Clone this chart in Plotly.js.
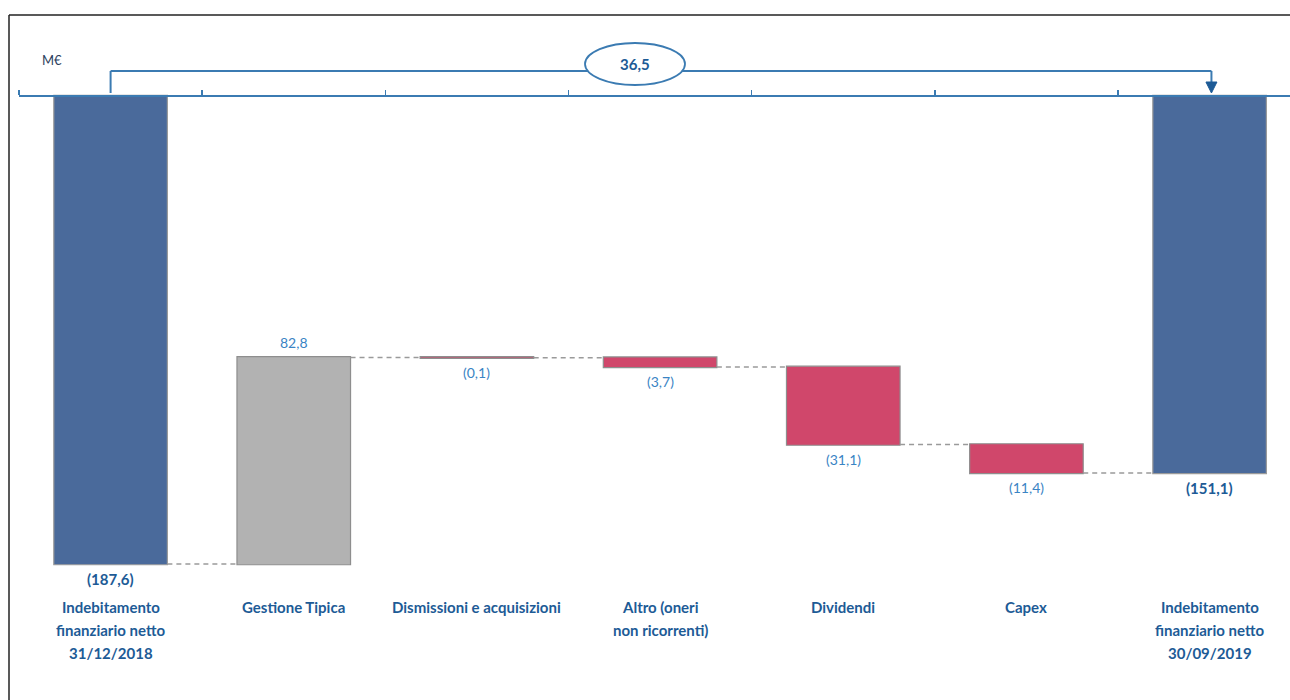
<!DOCTYPE html>
<html>
<head>
<meta charset="utf-8">
<script src="https://cdn.plot.ly/plotly-3.0.1.min.js"></script>
<style>
html,body{margin:0;padding:0;background:#fff;overflow:hidden;}
#chart{width:1290px;height:700px;}
</style>
</head>
<body>
<div id="chart"></div>
<script>
// ---- data ----
const categories = [
  "Indebitamento\nfinanziario netto\n31/12/2018",
  "Gestione Tipica",
  "Dismissioni e acquisizioni",
  "Altro (oneri\nnon ricorrenti)",
  "Dividendi",
  "Capex",
  "Indebitamento\nfinanziario netto\n30/09/2019"
];
const measures = ["absolute", "relative", "relative", "relative", "relative", "relative", "total"];
const values = [-187.6, 82.8, -0.1, -3.7, -31.1, -11.4, -151.1];
const unitLabel = "M€";

// ---- styles ----
const BLUE = "#4a6a9b";
const RED = "#d0476b";
const GREY = "#b2b2b2";
const LINE_BLUE = "#3b7bb2";
const DARK_TXT = "#1d5b96";
const VAL_TXT = "#3a84c4";
const FONT = "Lato, 'Open Sans', sans-serif";

const fmt = v => {
  const s = Math.abs(v).toFixed(1).replace('.', ',');
  return v < 0 ? "(" + s + ")" : s;
};

const xcats = categories.map(c => c.replace(/\n/g, " "));

const trace = {
  type: "waterfall",
  x: xcats,
  y: values,
  measure: measures,
  width: 0.62,
  textinfo: "none",
  hoverinfo: "skip",
  increasing: {marker: {color: GREY, line: {color: "#8e8e8e", width: 1.2}}},
  decreasing: {marker: {color: RED, line: {color: "#8e8e8e", width: 1.2}}},
  totals: {marker: {color: BLUE, line: {color: "#9a9a9a", width: 1.2}}},
  connector: {mode: "between", line: {color: "#9a9a9a", width: 1.5, dash: "5px,4px"}}
};

// value labels
const annotations = [];
let cum = 0;
values.forEach((v, i) => {
  let start, end;
  if (measures[i] === "absolute") { start = 0; end = v; cum = v; }
  else if (measures[i] === "total") { start = 0; end = cum; }
  else { start = cum; end = cum + v; cum = end; }
  const shown = measures[i] === "total" ? end : v;
  const isTot = measures[i] !== "relative";
  const pos = shown >= 0;
  annotations.push({
    x: xcats[i], xref: "x",
    y: pos ? Math.max(start, end) : Math.min(start, end), yref: "y",
    text: fmt(shown), showarrow: false,
    yanchor: pos ? "bottom" : "top",
    yshift: pos ? 4 : -4,
    font: {family: FONT, size: isTot ? 15 : 14, color: isTot ? DARK_TXT : VAL_TXT, weight: isTot ? 700 : 400}
  });
});

// category labels (one annotation per line)
categories.forEach((c, i) => {
  c.split("\n").forEach((line, j) => {
    annotations.push({
      x: xcats[i], xref: "x",
      y: 1, yref: "paper", yanchor: "middle",
      yshift: -(607 + j * 23),
      text: line, showarrow: false,
      font: {family: FONT, size: 15, color: DARK_TXT, weight: 700}
    });
  });
});

// unit label
annotations.push({
  x: 0, xref: "paper", xshift: 33, y: 1, yref: "paper", yshift: -60,
  text: unitLabel, showarrow: false, xanchor: "center", yanchor: "middle",
  font: {family: FONT, size: 13, color: "#2c3e5c"}
});

// change bracket
const delta = values[values.length - 1] - values[0];
const k = 468 / 187.6; // px per unit (visual scale)
const yTop = 25 / k, yBase = 3 / k, yHeadBase = 14 / k, yTip = 3 / k;
const nLast = categories.length - 1;
const cx = 2.863, hw = 50 / 183.17;
annotations.push({
  x: cx, xref: "x", y: (21.25 + 4.41) / 2, yref: "y",
  text: delta.toFixed(1).replace('.', ','), showarrow: false,
  font: {family: FONT, size: 15, color: DARK_TXT, weight: 700}
});

const aw = 5.5 / 183.17;
const shapes = [
  // frame
  {type: "line", xref: "paper", yref: "paper", x0: -10/1271, x1: 1.05, y0: 1 - 15/700, y1: 1 - 15/700, line: {color: "#222", width: 1.5}},
  {type: "line", xref: "paper", yref: "paper", x0: -10/1271, x1: -10/1271, y0: 1 - 15/700, y1: -0.05, line: {color: "#222", width: 1.5}},
  // bracket
  {type: "line", xref: "x", yref: "y", x0: 0, x1: 0, y0: yBase, y1: yTop, line: {color: LINE_BLUE, width: 2}},
  {type: "line", xref: "x", yref: "y", x0: 0, x1: nLast + 0.01, y0: yTop, y1: yTop, line: {color: LINE_BLUE, width: 2}},
  {type: "line", xref: "x", yref: "y", x0: nLast + 0.01, x1: nLast + 0.01, y0: yTop, y1: yHeadBase, line: {color: LINE_BLUE, width: 2}},
  {type: "path", xref: "x", yref: "y",
   path: `M ${nLast + 0.01 - aw} ${yHeadBase} L ${nLast + 0.01 + aw} ${yHeadBase} L ${nLast + 0.01} ${yTip} Z`,
   fillcolor: "#1d5b96", line: {color: "#1d5b96", width: 1}},
  // ellipse
  {type: "circle", xref: "x", yref: "y", x0: cx - hw, x1: cx + hw, y0: 4.41, y1: 21.25,
   fillcolor: "#fff", line: {color: LINE_BLUE, width: 1.8}}
];

const layout = {
  width: 1290, height: 700,
  margin: {l: 19, r: 0, t: 0, b: 0},
  paper_bgcolor: "#fff", plot_bgcolor: "rgba(0,0,0,0)",
  showlegend: false,
  xaxis: {
    type: "category",
    range: [-0.5, -0.5 + 1271 / 183.17],
    anchor: "free", position: 1 - 96 / 700,
    side: "top",
    showline: true, linecolor: LINE_BLUE, linewidth: 2,
    ticks: "outside", tickson: "boundaries", ticklen: 5, tickwidth: 1.5, tickcolor: LINE_BLUE,
    showticklabels: false, showgrid: false, zeroline: false, fixedrange: true
  },
  yaxis: {
    range: [-(700 - 96) / k, 96 / k],
    visible: false, fixedrange: true
  },
  annotations: annotations,
  shapes: shapes
};

Plotly.newPlot("chart", [trace], layout, {displayModeBar: false, staticPlot: true});
</script>
</body>
</html>
